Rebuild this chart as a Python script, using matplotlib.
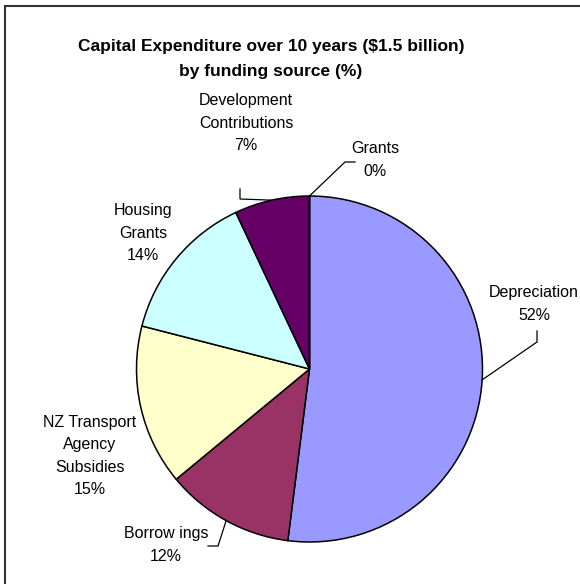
import numpy as np
import matplotlib

matplotlib.use("Agg")
import matplotlib.pyplot as plt
from matplotlib.patches import Rectangle

plt.rcParams["font.family"] = ["Liberation Sans", "DejaVu Sans"]

sources = ["Depreciation", "Borrow ings", "NZ Transport\nAgency\nSubsidies",
           "Housing\nGrants", "Development\nContributions", "Grants"]
shares = [52, 12, 15, 14, 7, 0]
colors = ["#9999FF", "#993366", "#FFFFCC", "#CCFFFF", "#660066", "#FF8080"]

W, H = 580, 584
# pixel layout (y measured from top)
centre = (309.5, 369)
radius = 173
label_xy = [(534, 304), (166, 545), (90, 456), (143, 233), (246, 123), (375, 160)]
# leader lines: elbow point and end point, None where no leader is drawn
leaders = [((537, 342), (537, 331)), ((218, 546), (208, 546)), None, None,
           ((240, 199), (240, 189)), ((345, 162), (355, 162))]

fig = plt.figure(figsize=(W / 100, H / 100), dpi=100)
ax = fig.add_axes([0, 0, 1, 1])
wedges, _ = ax.pie(shares, colors=colors, startangle=90, counterclock=False,
                   center=(centre[0], H - centre[1]), radius=radius,
                   wedgeprops=dict(edgecolor="black", linewidth=1.1))
ax.set_xlim(0, W)
ax.set_ylim(0, H)
ax.axis("off")

for w, name, v, (lx, ly), ld in zip(wedges, sources, shares, label_xy, leaders):
    ax.text(lx, H - ly, f"{name}\n{v:.0f}%", ha="center", va="center",
            fontsize=11.5, linespacing=1.6, color="black")
    if ld is None:
        continue
    mid = np.deg2rad((w.theta1 + w.theta2) / 2)
    ex = centre[0] + radius * np.cos(mid)
    ey = (H - centre[1]) + radius * np.sin(mid)
    (bx, by), (tx, ty) = ld
    ax.plot([ex, bx, tx], [ey, H - by, H - ty], color="black", lw=0.9,
            solid_joinstyle="miter")

fig.text(271 / W, 1 - 59 / H, "Capital Expenditure over 10 years ($1.5 billion)\nby funding source (%)",
         ha="center", va="center", fontsize=12.5, fontweight="bold", linespacing=1.8)

# chart area border, running off the right and bottom edges
fig.patches.append(Rectangle((5 / W, -0.1), 1.2, 1 - 6 / H + 0.1, transform=fig.transFigure,
                             fill=False, edgecolor="#333333", linewidth=1.5))

fig.savefig("out.png", dpi=100, facecolor="white")
